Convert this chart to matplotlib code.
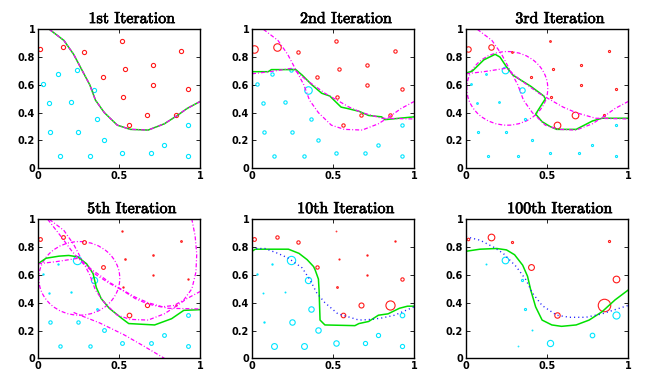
import matplotlib
matplotlib.use('Agg')
import matplotlib.pyplot as plt
import matplotlib.patheffects as pe
from matplotlib.patches import Ellipse

titles = ['1st Iteration', '2nd Iteration', '3rd Iteration',
          '5th Iteration', '10th Iteration', '100th Iteration']

# training points
red_x = [0.014, 0.153, 0.285, 0.52, 0.88, 0.536, 0.71, 0.40, 0.71, 0.926, 0.526, 0.674, 0.854, 0.563]
red_y = [0.856, 0.87, 0.84, 0.916, 0.844, 0.715, 0.743, 0.657, 0.60, 0.571, 0.513, 0.386, 0.386, 0.314]
cyan_x = [0.029, 0.122, 0.241, 0.346, 0.07, 0.206, 0.365, 0.074, 0.245, 0.41, 0.134, 0.32, 0.517, 0.699, 0.78, 0.928, 0.928]
cyan_y = [0.609, 0.681, 0.71, 0.561, 0.47, 0.475, 0.355, 0.261, 0.259, 0.206, 0.086, 0.091, 0.11, 0.108, 0.17, 0.312, 0.091]

# relative marker size (data weights) in each panel
red_w = [
    [1.0] * 14,
    [1.8, 1.8, 0.8, 0.8, 0.8, 0.8, 0.8, 0.8, 0.8, 0.8, 0.8, 0.8, 0.8, 0.8],
    [1.3, 1.3, 0.4, 0.4, 0.5, 0.5, 0.5, 0.5, 0.5, 0.5, 0.5, 1.6, 0.5, 1.6],
    [0.9, 0.9, 0.9, 0.3, 0.4, 0.35, 0.35, 0.9, 0.3, 0.3, 0.3, 1.0, 0.3, 1.1],
    [0.9, 0.8, 0.8, 0.15, 0.3, 0.25, 0.3, 0.8, 0.3, 0.8, 0.4, 1.2, 2.2, 1.1],
    [0.6, 1.6, 0.5, 0.0, 0.5, 0.0, 0.0, 1.4, 0.0, 1.6, 0.0, 0.0, 3.0, 1.3],
]
cyan_w = [
    [1.0] * 17,
    [0.8, 0.8, 0.8, 1.8, 0.8, 0.8, 0.8, 0.8, 0.8, 0.8, 0.8, 0.8, 0.8, 0.8, 0.8, 0.8, 0.8],
    [0.4, 0.4, 1.6, 1.3, 0.4, 0.4, 0.5, 0.5, 0.5, 0.5, 0.5, 0.5, 0.5, 0.5, 0.5, 0.5, 0.5],
    [0.3, 0.3, 2.0, 1.5, 0.3, 0.3, 0.4, 0.8, 0.8, 0.9, 0.8, 0.8, 0.9, 0.9, 0.9, 0.9, 0.9],
    [0.3, 0.3, 2.0, 1.5, 0.2, 0.2, 1.3, 0.3, 1.3, 1.3, 1.4, 1.4, 1.3, 1.0, 1.0, 1.1, 1.0],
    [0.0, 0.2, 1.6, 0.5, 0.0, 0.0, 0.5, 0.0, 0.0, 0.2, 0.0, 0.15, 1.5, 0.0, 1.1, 1.7, 0.0],
]

# weak learner boundaries (magenta)
l1_x = [0.07, 0.16, 0.22, 0.27, 0.32, 0.355, 0.41, 0.49, 0.57, 0.68, 0.78, 0.86, 0.92, 1.0]
l1_y = [1.0, 0.92, 0.82, 0.71, 0.60, 0.49, 0.40, 0.31, 0.28, 0.275, 0.32, 0.38, 0.43, 0.48]
l2_x = [0.0, 0.11, 0.25, 0.33, 0.45, 0.60, 0.68, 0.80, 1.0]
l2_y = [0.68, 0.695, 0.72, 0.64, 0.54, 0.44, 0.40, 0.36, 0.355]
l3_centre = (0.255, 0.575)
l3_size = (0.50, 0.53)
l4_x = [0.06, 0.14, 0.21, 0.28, 0.36, 0.44, 0.52, 0.60, 0.68, 0.76, 0.84, 0.90, 0.95, 0.975, 0.98, 0.97, 0.95]
l4_y = [1.0, 0.88, 0.77, 0.68, 0.60, 0.54, 0.49, 0.43, 0.39, 0.37, 0.38, 0.42, 0.50, 0.62, 0.75, 0.88, 1.0]
l5_x = [0.22, 0.26, 0.38, 0.53, 0.65, 0.78]
l5_y = [0.33, 0.31, 0.255, 0.17, 0.09, 0.0]

learners = [[1], [1, 2], [1, 2, 3], [1, 2, 3, 4, 5], [], []]

# combined classifier (green)
comb_x = [
    l1_x,
    [0.0, 0.10, 0.12, 0.27, 0.31, 0.37, 0.43, 0.48, 0.55, 0.59, 0.66, 0.72, 0.80, 0.82, 1.0],
    [0.0, 0.04, 0.11, 0.18, 0.21, 0.25, 0.29, 0.40, 0.48, 0.49, 0.43, 0.47, 0.52, 0.56, 0.68, 0.78, 0.84, 1.0],
    [0.0, 0.05, 0.13, 0.19, 0.245, 0.30, 0.34, 0.36, 0.39, 0.44, 0.52, 0.56, 0.72, 0.825, 0.90, 1.0],
    [0.0, 0.02, 0.225, 0.29, 0.34, 0.38, 0.39, 0.41, 0.414, 0.42, 0.45, 0.635, 0.66, 0.72, 0.78, 0.84, 0.91, 0.96, 1.0],
    [0.0, 0.086, 0.19, 0.25, 0.30, 0.35, 0.38, 0.40, 0.43, 0.47, 0.53, 0.59, 0.68, 0.76, 0.84, 0.92, 1.0],
]
comb_y = [
    l1_y,
    [0.695, 0.695, 0.71, 0.71, 0.67, 0.60, 0.54, 0.52, 0.44, 0.43, 0.41, 0.38, 0.37, 0.35, 0.37],
    [0.685, 0.70, 0.78, 0.82, 0.80, 0.73, 0.67, 0.59, 0.52, 0.50, 0.39, 0.335, 0.30, 0.28, 0.28, 0.34, 0.36, 0.36],
    [0.68, 0.72, 0.735, 0.74, 0.73, 0.68, 0.61, 0.51, 0.43, 0.36, 0.285, 0.25, 0.24, 0.285, 0.345, 0.35],
    [0.77, 0.785, 0.785, 0.755, 0.71, 0.66, 0.635, 0.57, 0.49, 0.275, 0.24, 0.235, 0.25, 0.265, 0.31, 0.32, 0.36, 0.375, 0.375],
    [0.77, 0.785, 0.79, 0.78, 0.745, 0.67, 0.59, 0.49, 0.37, 0.275, 0.24, 0.23, 0.24, 0.275, 0.335, 0.42, 0.49],
]

# blue dotted boundary in the last two panels
blue_x = {
    4: [0.0, 0.08, 0.16, 0.225, 0.31, 0.36, 0.40, 0.45, 0.53, 0.59, 0.66, 0.74, 0.80, 0.88, 1.0],
    5: [0.0, 0.086, 0.17, 0.23, 0.31, 0.37, 0.41, 0.47, 0.56, 0.64, 0.74, 0.84, 1.0],
}
blue_y = {
    4: [0.79, 0.79, 0.755, 0.72, 0.65, 0.56, 0.47, 0.40, 0.32, 0.30, 0.275, 0.28, 0.29, 0.31, 0.37],
    5: [0.875, 0.85, 0.80, 0.755, 0.66, 0.565, 0.47, 0.38, 0.31, 0.295, 0.295, 0.32, 0.38],
}

RED = '#ff1a1a'
CYAN = '#00e5ff'
MAG = '#ff00ff'
GREEN = '#00e000'
dashdot = (0, (3.2, 1.6, 0.8, 1.6))

fig = plt.figure(figsize=(6.48, 3.78), dpi=100)
lefts = [0.0586, 0.3889, 0.7191]
bottoms = [0.5548, 0.0521]

for k in range(6):
    ax = fig.add_axes([lefts[k % 3], bottoms[k // 3], 0.25, 0.3677])

    for x, y, w in zip(red_x, red_y, red_w[k]):
        if w > 0:
            ax.plot(x, y, 'o', mfc='none', mec=RED, ms=3.0 * w, mew=0.8)
    for x, y, w in zip(cyan_x, cyan_y, cyan_w[k]):
        if w > 0:
            ax.plot(x, y, 'o', mfc='none', mec=CYAN, ms=3.0 * w, mew=0.8)

    ax.plot(comb_x[k], comb_y[k], color=GREEN, lw=1.1)

    for m in learners[k]:
        if m == 1:
            ax.plot(l1_x, l1_y, color=MAG, lw=0.9, ls=dashdot)
        elif m == 2:
            ax.plot(l2_x, l2_y, color=MAG, lw=0.9, ls=dashdot)
        elif m == 3:
            ax.add_patch(Ellipse(l3_centre, l3_size[0], l3_size[1], fill=False,
                                 ec=MAG, lw=0.9, ls=dashdot))
        elif m == 4:
            ax.plot(l4_x, l4_y, color=MAG, lw=0.9, ls=dashdot)
        elif m == 5:
            ax.plot(l5_x, l5_y, color=MAG, lw=0.9, ls=dashdot)

    if k in blue_x:
        ax.plot(blue_x[k], blue_y[k], color='#2020ff', lw=1.0, ls=(0, (0.8, 2.2)))

    ax.set_xlim(0, 1)
    ax.set_ylim(0, 1)
    ax.set_xticks([0, 0.5, 1])
    ax.set_xticklabels(['0', '0.5', '1'])
    ax.set_yticks([0, 0.2, 0.4, 0.6, 0.8, 1])
    ax.set_yticklabels(['0', '0.2', '0.4', '0.6', '0.8', '1'])
    ax.tick_params(direction='in', length=3, width=0.6, top=True, right=True,
                   labelsize=7, pad=2)
    for lab in ax.get_xticklabels() + ax.get_yticklabels():
        lab.set_fontweight('bold')
        lab.set_fontfamily('DejaVu Sans')
    for sp in ax.spines.values():
        sp.set_linewidth(1.0)
    ax.text(0.58, 1.045, titles[k], transform=ax.transAxes, ha='center',
            va='baseline', fontsize=11.5, family='cmr10',
            path_effects=[pe.withStroke(linewidth=0.5, foreground='black')])

fig.savefig('out.png', dpi=100)
